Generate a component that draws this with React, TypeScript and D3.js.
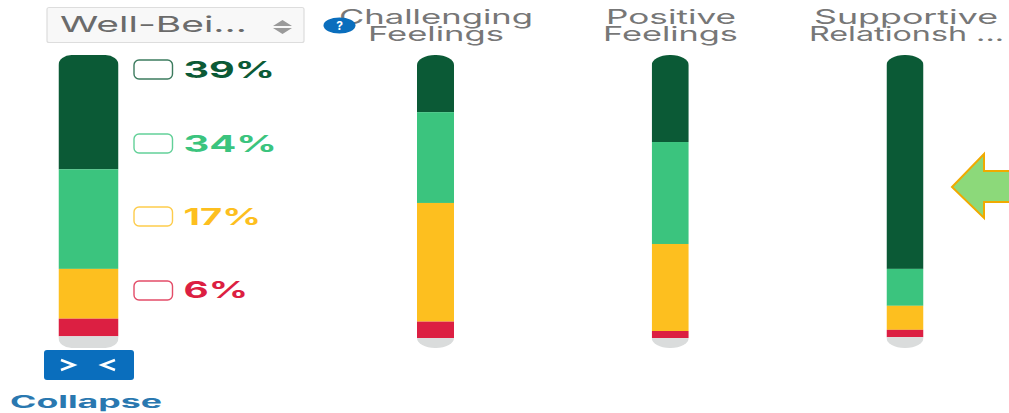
import React from "react";
import * as d3 from "d3";

// Response shares per measure, top to bottom; the rest of each column is "no answer".
const bands = ["Thriving", "Growing", "Emerging", "Struggling", "NoAnswer"];
const bandColors = ["#0b5a36", "#3bc47e", "#fdbf1f", "#dc1f42", "#dadcdc"];

const overall = [39, 34, 17, 6, 4];
const challenging = [19.5, 31, 40.5, 5.6, 3.4];
const positive = [29.7, 34.8, 29.7, 2.4, 3.4];
const supportive = [73, 12.6, 8.2, 2.5, 3.7];

const measures = ["Challenging", "Positive", "Supportive"];
const measureValues = [challenging, positive, supportive];

const legendLabels = ["39%", "34%", "17%", "6%"];
const FONT = "Inter, 'Noto Sans', sans-serif";
const BLUE = "#0a6ebd";

const y = d3.scaleLinear().domain([0, 100]).range([55, 348]);
const x = d3.scalePoint<string>().domain(measures).range([435.5, 905]);

// Stacks one column from the shared vertical scale, clipped to a pill outline.
function Column({ id, values, left, width, rx, ry }: { id: string; values: number[]; left: number; width: number; rx: number; ry: number }) {
  const row = Object.fromEntries(bands.map((b, i) => [b, values[i]]));
  const layers = d3.stack<Record<string, number>>().keys(bands)([row]);
  return (
    <g>
      <clipPath id={id}>
        <rect x={left} y={y(0)} width={width} height={y(100) - y(0)} rx={rx} ry={ry} />
      </clipPath>
      <g clipPath={`url(#${id})`}>
        {layers.map((layer, i) => (
          <rect
            key={layer.key}
            x={left}
            y={y(layer[0][0])}
            width={width}
            height={y(layer[0][1]) - y(layer[0][0])}
            fill={bandColors[i]}
          />
        ))}
      </g>
    </g>
  );
}

// Wide-set label: the run length is fixed so the letterforms stretch across it.
function Wide({ x0, x1, base, size, fill, weight = 400, children }: { x0: number; x1: number; base: number; size: number; fill: string; weight?: number; children: React.ReactNode }) {
  return (
    <text x={x0} y={base} fontSize={size} fontWeight={weight} fill={fill} fontFamily={FONT} textLength={x1 - x0} lengthAdjust="spacingAndGlyphs">
      {children}
    </text>
  );
}

const legendRows = [
  { box: 60, base: 78, end: 275 },
  { box: 134, base: 151.5, end: 277 },
  { box: 207, base: 225, end: 261 },
  { box: 281, base: 298, end: 248 },
];

export default function App() {
  return (
    <svg width={1009} height={413} style={{ position: "absolute", left: 0, top: 0, background: "#fff" }}>
      {/* measure selector */}
      <rect x={47} y={7.5} width={257} height={35} rx={2} fill="#f8f8f8" stroke="#dddddd" strokeWidth={1.2} />
      <Wide x0={60} x1={247} base={32} size={22} fill="#6b6b6b">Well-Bei...</Wide>
      <path d="M273,26 L282.5,20 L292,26 Z M273,28 L282.5,34 L292,28 Z" fill="#9a9a9a" />

      {/* overall column and its legend */}
      <Column id="col-overall" values={overall} left={58.5} width={60} rx={13} ry={10} />
      {legendRows.map((row, i) => (
        <g key={legendLabels[i]}>
          <rect x={134} y={row.box} width={38.5} height={19} rx={5} fill="#fff" stroke={bandColors[i]} strokeWidth={1.4} strokeOpacity={0.8} />
          <Wide x0={183.5} x1={row.end} base={row.base} size={23} weight={700} fill={bandColors[i]}>{legendLabels[i]}</Wide>
        </g>
      ))}

      {/* collapse control */}
      <rect x={44} y={350} width={90} height={30} rx={3} fill={BLUE} />
      <path d="M61,360 L74,365 L61,370 M115,360 L102,365 L115,370" fill="none" stroke="#fff" strokeWidth={2.6} />
      <Wide x0={10} x1={162} base={407.5} size={17} weight={700} fill="#2a78b0">Collapse</Wide>

      {/* measure headers */}
      <Wide x0={339} x1={533} base={23.5} size={20} fill="#777777">Challenging</Wide>
      <Wide x0={368} x1={504} base={40.5} size={20} fill="#777777">Feelings</Wide>
      <Wide x0={606} x1={736} base={23.5} size={20} fill="#777777">Positive</Wide>
      <Wide x0={603} x1={738} base={40.5} size={20} fill="#777777">Feelings</Wide>
      <Wide x0={814} x1={998} base={23.5} size={20} fill="#777777">Supportive</Wide>
      <Wide x0={809} x1={1004} base={40.5} size={20} fill="#777777">Relationsh ...</Wide>

      {/* help badge */}
      <ellipse cx={339.5} cy={25.5} rx={16} ry={8} fill={BLUE} />
      <text x={339.5} y={30} fontSize={12} fontWeight={700} fill="#fff" textAnchor="middle" fontFamily={FONT}>?</text>

      {/* measure columns */}
      {measures.map((m, i) => (
        <Column key={m} id={`col-${m}`} values={measureValues[i]} left={x(m)! - 18.5} width={37} rx={18} ry={10} />
      ))}

      {/* callout arrow */}
      <path d="M952,187 L984,154 L984,171 L1011,171 L1011,202 L984,202 L984,218 Z" fill="#8cd97a" stroke="#f0aa00" strokeWidth={2} />
    </svg>
  );
}
